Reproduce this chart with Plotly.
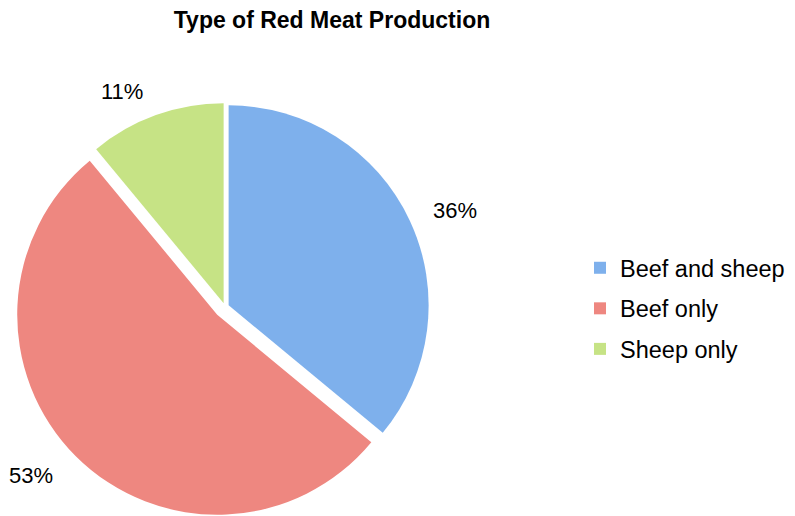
import math
import plotly.graph_objects as go

labels = ["Beef and sheep", "Beef only", "Sheep only"]
values = [36, 53, 11]
colors = ["#7eb0ec", "#ee8780", "#c6e385"]
pulls = [0.02, 0.055, 0.02]

W, H = 795, 516
cx, cy, r = 217, 299, 200          # pie domain centre (px from top-left) and radius
r_dom = r * (1 + max(pulls))
font = "Liberation Sans, Arial"

fig = go.Figure()
fig.add_trace(go.Pie(
    labels=labels, values=values, sort=False, direction="clockwise", rotation=0,
    marker=dict(colors=colors, line=dict(width=0)),
    pull=pulls, textinfo="none", showlegend=False, hoverinfo="label+percent",
    domain=dict(x=[(cx - r_dom) / W, (cx + r_dom) / W],
                y=[max(0.0, (H - cy - r_dom) / H), min(1.0, (H - cy + r_dom) / H)]),
))

# percent labels placed just outside each slice, from the data
lx, ly = 215, 300
total = sum(values)
cum = 0
for v, p in zip(values, pulls):
    mid = (cum + v / 2) / total * 2 * math.pi
    cum += v
    d = r + p * r + 26
    sx, sy = math.sin(mid), math.cos(mid)
    fig.add_annotation(
        x=(lx + d * sx) / W, y=(H - ly + d * sy) / H, xref="paper", yref="paper",
        text=f"{round(v / total * 100)}%", showarrow=False,
        xanchor="left" if sx > 0 else "right", yanchor="middle",
        font=dict(family=font, size=22, color="#000000"),
    )

for i, (lab, col) in enumerate(zip(labels, colors)):
    fig.add_trace(go.Scatter(
        x=[None], y=[None], mode="markers", name=lab,
        marker=dict(symbol="square", size=12, color=col),
        legendgroup=f"g{i}", showlegend=True,
    ))

fig.update_layout(
    width=W, height=H,
    margin=dict(l=0, r=0, t=0, b=0),
    paper_bgcolor="white", plot_bgcolor="white",
    title=dict(text="<b>Type of Red Meat Production</b>", x=324 / W, xanchor="center",
               y=1 - 12 / H, yanchor="middle",
               font=dict(family=font, size=23, color="#000000")),
    xaxis=dict(visible=False), yaxis=dict(visible=False),
    legend=dict(x=572 / W, y=1 - 238 / H, xanchor="left", yanchor="top",
                font=dict(family=font, size=23.5, color="#000000"),
                tracegroupgap=7, itemwidth=30, bgcolor="rgba(0,0,0,0)"),
)
fig.write_html("out.html")
